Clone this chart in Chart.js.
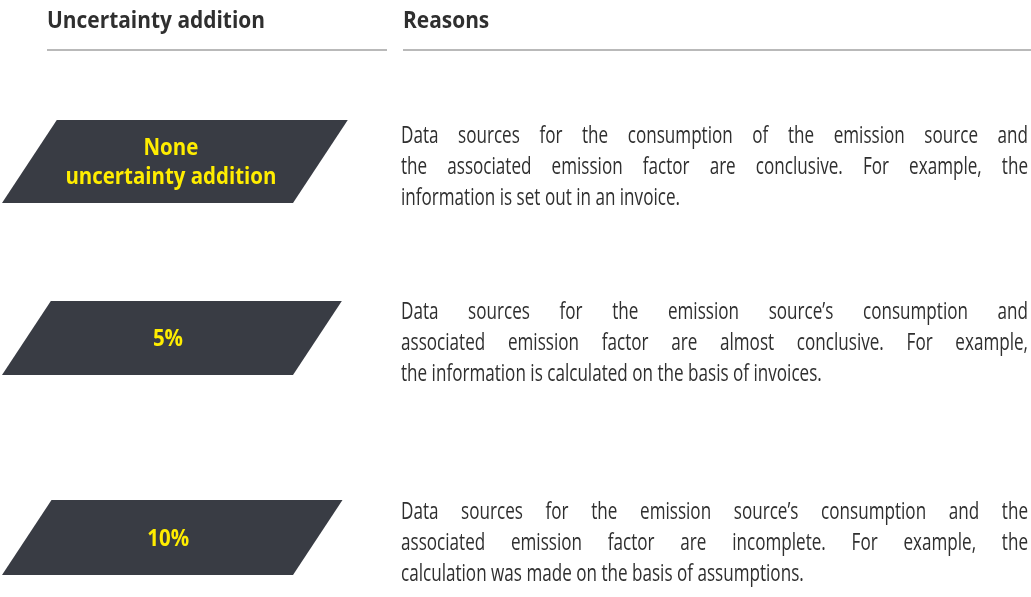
<!DOCTYPE html>
<html>
<head>
<meta charset="utf-8">
<script src="https://cdn.jsdelivr.net/npm/chart.js@4/dist/chart.umd.min.js"></script>
<style>
html, body { margin: 0; padding: 0; background: #fff; }
canvas { display: block; }
</style>
</head>
<body>
<canvas id="chart" width="1031" height="597"></canvas>
<script>
// table content
const headers = ['Uncertainty addition', 'Reasons'];
const categories = [['None', 'uncertainty addition'], ['5%'], ['10%']];
const reasons = [
	[
		'Data sources for the consumption of the emission source and',
		'the associated emission factor are conclusive. For example, the',
		'information is set out in an invoice.'
	],
	[
		'Data sources for the emission source\u2019s consumption and',
		'associated emission factor are almost conclusive. For example,',
		'the information is calculated on the basis of invoices.'
	],
	[
		'Data sources for the emission source\u2019s consumption and the',
		'associated emission factor are incomplete. For example, the',
		'calculation was made on the basis of assumptions.'
	]
];

// layout (pixels)
const rowCenter = [161.5, 338, 537.5];
const rowHeight = [83, 74, 75];
const cellSpan = [2, 293];
const slant = 0.66;
const textLeft = 401, textRight = 1028, lineGap = 31;

const FILL = '#393c44', YELLOW = '#ffed00', INK = '#2f2f2f', RULE = '#a3a3a3';
const FAMILY = '"Open Sans", "DejaVu Sans", sans-serif';

function scaledText(ctx, txt, x, y, sx)
{
	ctx.save();
	ctx.translate(x, y);
	ctx.scale(sx, 1);
	ctx.fillText(txt, 0, 0);
	ctx.restore();
}

function justified(ctx, txt, y, sx)
{
	var words = txt.split(' ');
	var widths = words.map(function(w) { return ctx.measureText(w).width * sx; });
	var total = widths.reduce(function(a, b) { return a + b; }, 0);
	var gap = (textRight - textLeft - total) / (words.length - 1);
	var cx = textLeft;
	words.forEach(function(w, i) {
		scaledText(ctx, w, cx, y, sx);
		cx += widths[i] + gap;
	});
}

const tablePlugin = {
	id: 'tablePlugin',
	afterDatasetsDraw: function(chart)
	{
		var ctx = chart.ctx;
		ctx.save();
		ctx.textAlign = 'left';
		ctx.textBaseline = 'alphabetic';

		// header row
		ctx.font = 'bold 24px ' + FAMILY;
		ctx.fillStyle = INK;
		var hsx = 218 / ctx.measureText(headers[0]).width;
		scaledText(ctx, headers[0], 47, 28, hsx);
		scaledText(ctx, headers[1], 403, 28, hsx);

		ctx.strokeStyle = RULE;
		ctx.lineWidth = 1.5;
		ctx.beginPath();
		ctx.moveTo(47, 50); ctx.lineTo(387, 50);
		ctx.moveTo(403, 50); ctx.lineTo(1031, 50);
		ctx.stroke();

		// parallelogram cells + labels
		ctx.font = 'bold 23px ' + FAMILY;
		var lsx = 211 / ctx.measureText('uncertainty addition').width;
		chart.data.datasets.forEach(function(ds, i)
		{
			var el = chart.getDatasetMeta(i).data[0];
			var p = el.getProps(['x', 'y', 'base', 'height'], true);
			var top = p.y - p.height / 2, bottom = p.y + p.height / 2;
			var s = p.height * slant;
			ctx.fillStyle = FILL;
			ctx.beginPath();
			ctx.moveTo(p.base + s, top);
			ctx.lineTo(p.x + s, top);
			ctx.lineTo(p.x, bottom);
			ctx.lineTo(p.base, bottom);
			ctx.closePath();
			ctx.fill();

			var lines = categories[i];
			var mid = (p.base + p.x) / 2 + s / 2 - 4;
			ctx.fillStyle = YELLOW;
			lines.forEach(function(t, k)
			{
				var w = ctx.measureText(t).width * lsx;
				var cy = p.y + (k - (lines.length - 1) / 2) * 29;
				scaledText(ctx, t, mid - w / 2, cy + 8, lsx);
			});
		});

		// reasons column
		ctx.font = '23px ' + FAMILY;
		ctx.fillStyle = INK;
		var bsx = 279 / ctx.measureText(reasons[0][2]).width;
		reasons.forEach(function(par, i)
		{
			var c = rowCenter[i] + 5;
			par.forEach(function(line, k)
			{
				var y = c + (k - 1) * lineGap + 7;
				if (k < par.length - 1) justified(ctx, line, y, bsx);
				else scaledText(ctx, line, textLeft, y, bsx);
			});
		});
		ctx.restore();
	}
};

new Chart(document.getElementById('chart'), {
	type: 'bar',
	data: {
		datasets: categories.map(function(c, i) {
			return {
				label: c.join(' '),
				data: [{ y: rowCenter[i], x: cellSpan }],
				barThickness: rowHeight[i],
				backgroundColor: 'rgba(0,0,0,0)',
				grouped: false
			};
		})
	},
	options: {
		indexAxis: 'y',
		responsive: false,
		animation: false,
		layout: { padding: 0 },
		plugins: { legend: { display: false }, tooltip: { enabled: false } },
		scales: {
			x: { type: 'linear', display: false, min: 0, max: 1031, offset: false },
			y: { type: 'linear', display: false, min: 0, max: 597, reverse: true, offset: false }
		}
	},
	plugins: [tablePlugin]
});
</script>
</body>
</html>
